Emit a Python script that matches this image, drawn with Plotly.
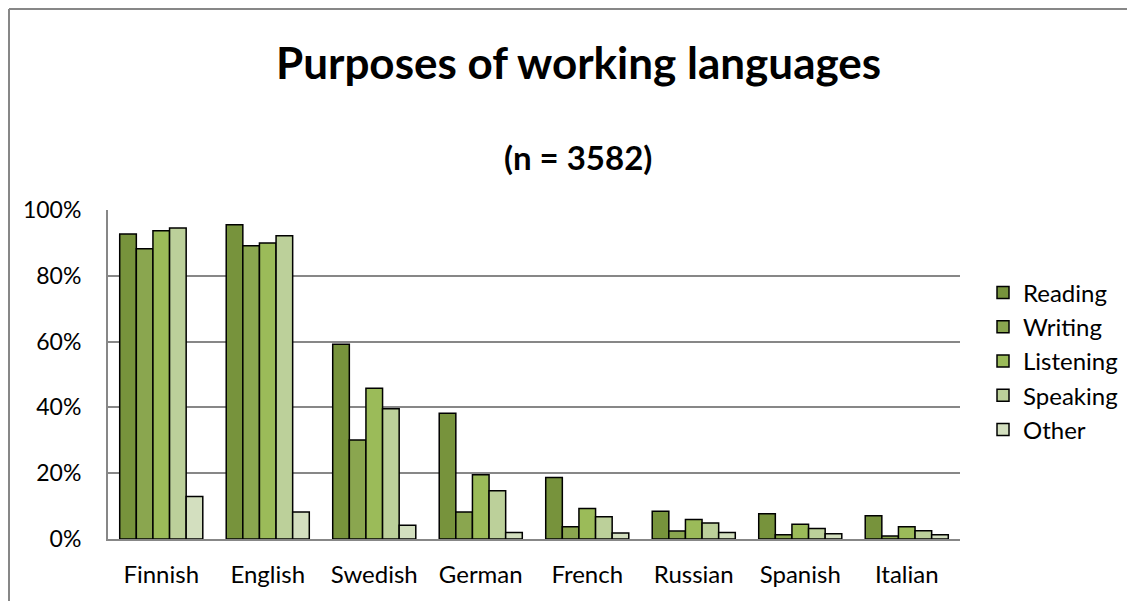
import plotly.graph_objects as go

languages = ["Finnish", "English", "Swedish", "German", "French", "Russian", "Spanish", "Italian"]
reading   = [92.7, 95.5, 59.2, 38.2, 18.7, 8.4, 7.7, 7.1]
writing   = [88.2, 89.1, 30.1, 8.2, 3.7, 2.4, 1.3, 0.9]
listening = [93.7, 90.0, 45.8, 19.5, 9.3, 5.9, 4.5, 3.7]
speaking  = [94.5, 92.2, 39.6, 14.7, 6.8, 4.9, 3.2, 2.5]
other     = [12.9, 8.2, 4.2, 2.0, 1.8, 2.0, 1.6, 1.3]
y_ticks = [0, 20, 40, 60, 80, 100]
y_tick_labels = ["0%", "20%", "40%", "60%", "80%", "100%"]

series = [
    ("Reading", reading, "#77933C"),
    ("Writing", writing, "#8AA64F"),
    ("Listening", listening, "#9BBB59"),
    ("Speaking", speaking, "#BCD09A"),
    ("Other", other, "#D3DFBF"),
]

FONT = "Lato, 'Open Sans', sans-serif"

fig = go.Figure()
for i, (name, vals, col) in enumerate(series):
    fig.add_trace(go.Bar(
        name=name, x=languages, y=vals,
        marker=dict(color=col, line=dict(color="black", width=1.5)),
    ))

W, H = 1127, 593
L, R, T, B = 100, 175, 202, 62
PW, PH = W - L - R, H - T - B

# chart-area border: only the top and left edges fall inside the window
bx0 = -(L - 1) / PW
by1 = 1 + (T - 1) / PH
fig.update_layout(
    width=W, height=H,
    barmode="group", bargap=0.22, bargroupgap=0,
    plot_bgcolor="white", paper_bgcolor="white",
    margin=dict(l=L, r=R, t=T, b=B),
    font=dict(family=FONT, color="black"),
    showlegend=True,
    legend=dict(
        x=1.027, y=0.541, xanchor="left", yanchor="middle",
        font=dict(size=24, family=FONT), traceorder="normal",
        itemwidth=30, bgcolor="rgba(0,0,0,0)",
    ),
    xaxis=dict(
        showline=True, linecolor="#878787", linewidth=2,
        tickfont=dict(size=24), ticks="", ticklabelstandoff=13,
    ),
    yaxis=dict(
        range=[0, 100], tickvals=y_ticks, ticktext=y_tick_labels,
        showgrid=True, gridcolor="#878787", gridwidth=1.5,
        showline=True, linecolor="#878787", linewidth=2,
        tickfont=dict(size=23), ticks="", ticklabelstandoff=20,
        zeroline=False,
    ),
    annotations=[
        dict(text="<b>Purposes of working languages</b>", xref="paper", yref="paper",
             x=0.552, y=1.0 + (T + 8 - 62) / PH, xanchor="center", yanchor="middle",
             showarrow=False, font=dict(size=44, family=FONT)),
        dict(text="<b>(n = 3582)</b>", xref="paper", yref="paper",
             x=0.552, y=1.0 + (T + 8 - 157) / PH, xanchor="center", yanchor="middle",
             showarrow=False, font=dict(size=33, family=FONT)),
    ],
    shapes=[
        dict(type="line", xref="paper", yref="paper",
             x0=bx0, x1=bx0, y0=-B / PH, y1=by1,
             line=dict(color="#878787", width=2), layer="below"),
        dict(type="line", xref="paper", yref="paper",
             x0=bx0, x1=(W - L) / PW, y0=by1, y1=by1,
             line=dict(color="#878787", width=2), layer="below"),
    ],
)

fig.write_html("out.html", post_script="document.documentElement.style.overflow='hidden';")
